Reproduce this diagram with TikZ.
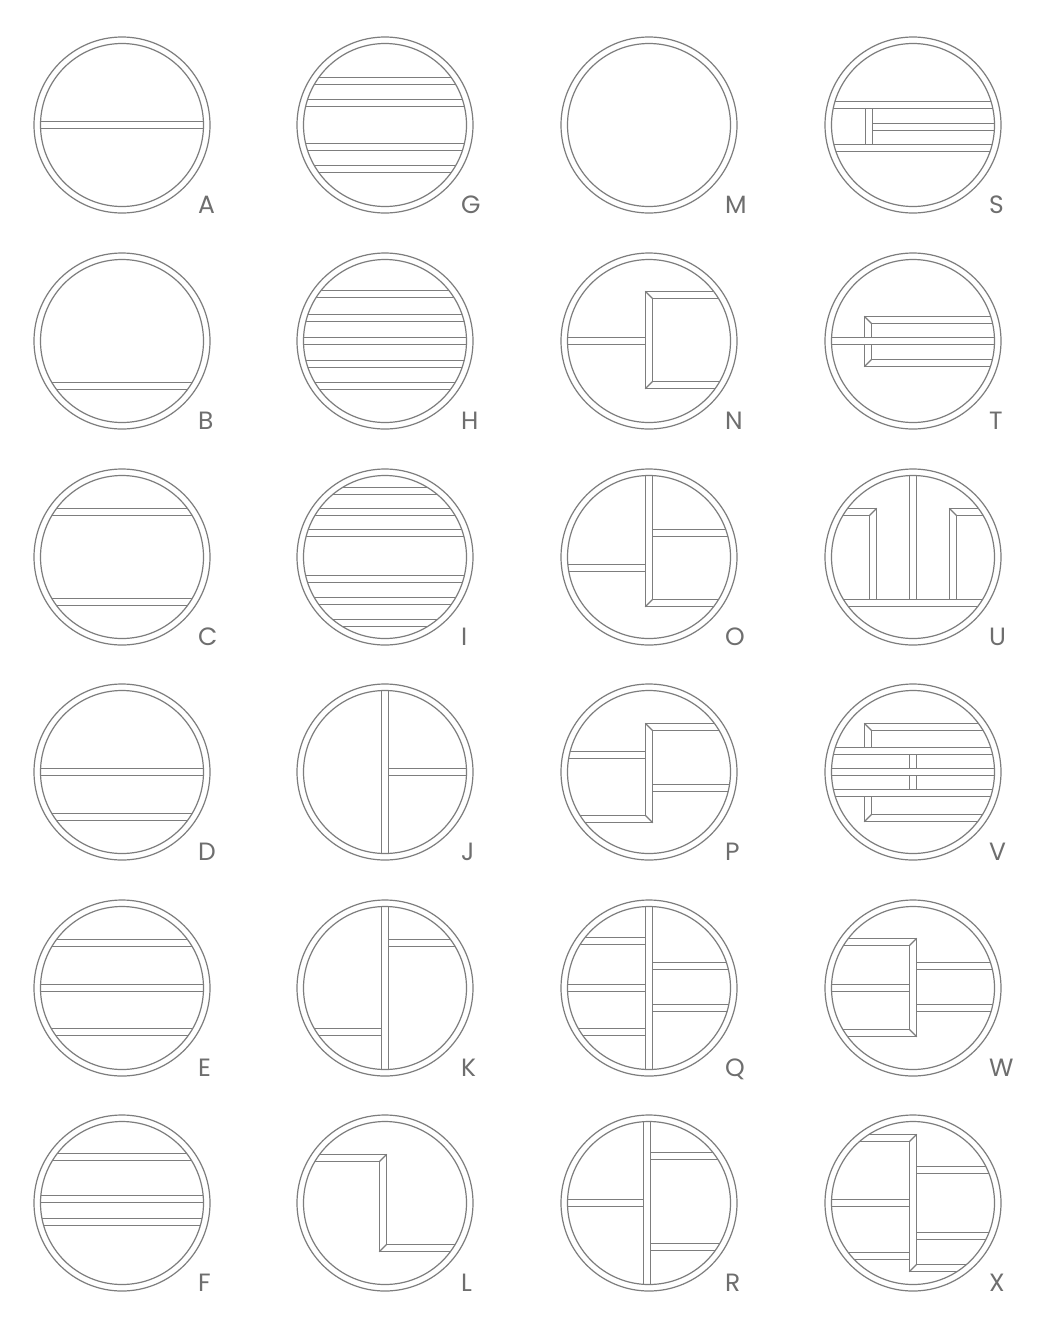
\documentclass[tikz,border=0pt]{standalone}
\usepackage{fontspec}
\setmainfont{Poppins}
\definecolor{lc}{RGB}{125,125,125}
\definecolor{lblc}{RGB}{110,110,110}
\def\hw{3.75}
\newcommand\hsh[3]{\draw[ln] (#2,#1-\hw) -- (#3,#1-\hw) (#2,#1+\hw) -- (#3,#1+\hw);}
\newcommand\vsh[3]{\draw[ln] (#1-\hw,#2) -- (#1-\hw,#3) (#1+\hw,#2) -- (#1+\hw,#3);}
\newcommand\medallion[4]{%
  \begin{scope}[shift={(#1,#2)}]
    \begin{scope}
      \clip (0,0) circle[radius=81.5pt];
      #4
    \end{scope}
    \draw[ln] (0,0) circle[radius=88pt] (0,0) circle[radius=81.5pt];
    \node[lbl] (lab#3) at (76,88) {#3};
  \end{scope}}
\begin{document}
\begin{tikzpicture}[x=1pt,y=-1pt,
  ln/.style={draw=lc,line width=1.2pt,line join=miter},
  lbl/.style={anchor=base west,text=lblc,font=\fontsize{25}{25}\selectfont,inner sep=0pt}]
\useasboundingbox (0,0) rectangle (1051,1326);
\fill[white] (0,0) rectangle (1051,1326);
% column 1
\medallion{122}{125}{A}{\hsh{0}{-90}{90}}
\medallion{122}{341}{B}{\hsh{45}{-90}{90}}
\medallion{122}{557}{C}{\hsh{-45}{-90}{90}\hsh{45}{-90}{90}}
\medallion{122}{772}{D}{\hsh{0}{-90}{90}\hsh{45}{-90}{90}}
\medallion{122}{988}{E}{\hsh{-45}{-90}{90}\hsh{0}{-90}{90}\hsh{44}{-90}{90}}
\medallion{122}{1203}{F}{\hsh{-46}{-90}{90}\hsh{-4}{-90}{90}\hsh{19}{-90}{90}}
% column 2
\medallion{385}{125}{G}{\hsh{-44}{-90}{90}\hsh{-22}{-90}{90}\hsh{22}{-90}{90}\hsh{44}{-90}{90}}
\medallion{385}{341}{H}{\hsh{-47}{-90}{90}\hsh{-23}{-90}{90}\hsh{0}{-90}{90}\hsh{23}{-90}{90}\hsh{45}{-90}{90}}
\medallion{385}{557}{I}{\hsh{-66}{-90}{90}\hsh{-45}{-90}{90}\hsh{-24}{-90}{90}\hsh{22}{-90}{90}\hsh{44}{-90}{90}\hsh{66}{-90}{90}}
\medallion{385}{772}{J}{\vsh{0}{-90}{90}\hsh{0}{\hw}{90}}
\medallion{385}{988}{K}{\vsh{0}{-90}{90}\hsh{-45}{\hw}{90}\hsh{44}{-90}{-\hw}}
\medallion{385}{1203}{L}{%
  \draw[ln] (-90,-45-\hw) -- (-2+\hw,-45-\hw) -- (-2+\hw,45-\hw) -- (90,45-\hw);
  \draw[ln] (-90,-45+\hw) -- (-2-\hw,-45+\hw) -- (-2-\hw,45+\hw) -- (90,45+\hw);
  \draw[ln] (-2+\hw,-45-\hw) -- (-2-\hw,-45+\hw) (-2-\hw,45+\hw) -- (-2+\hw,45-\hw);}
% column 3
\medallion{649}{125}{M}{}
\medallion{649}{341}{N}{%
  \draw[ln] (90,-46-\hw) -- (-\hw,-46-\hw) -- (-\hw,44+\hw) -- (90,44+\hw);
  \draw[ln] (90,-46+\hw) -- (\hw,-46+\hw) -- (\hw,44-\hw) -- (90,44-\hw);
  \draw[ln] (-\hw,-46-\hw) -- (\hw,-46+\hw) (-\hw,44+\hw) -- (\hw,44-\hw);
  \hsh{0}{-90}{-\hw}}
\medallion{649}{557}{O}{%
  \draw[ln] (-\hw,-90) -- (-\hw,46+\hw) -- (90,46+\hw);
  \draw[ln] (\hw,-90) -- (\hw,46-\hw) -- (90,46-\hw);
  \draw[ln] (-\hw,46+\hw) -- (\hw,46-\hw);
  \hsh{-24}{\hw}{90}\hsh{11}{-90}{-\hw}}
\medallion{649}{772}{P}{%
  \draw[ln] (90,-45-\hw) -- (-\hw,-45-\hw) -- (-\hw,47-\hw) -- (-90,47-\hw);
  \draw[ln] (90,-45+\hw) -- (\hw,-45+\hw) -- (\hw,47+\hw) -- (-90,47+\hw);
  \draw[ln] (-\hw,-45-\hw) -- (\hw,-45+\hw) (\hw,47+\hw) -- (-\hw,47-\hw);
  \hsh{-17}{-90}{-\hw}\hsh{16}{\hw}{90}}
\medallion{649}{988}{Q}{\vsh{0}{-90}{90}\hsh{-47}{-90}{-\hw}\hsh{0}{-90}{-\hw}\hsh{44}{-90}{-\hw}\hsh{-22}{\hw}{90}\hsh{20}{\hw}{90}}
\medallion{649}{1203}{R}{\vsh{-2}{-90}{90}\hsh{-47}{-2+\hw}{90}\hsh{44}{-2+\hw}{90}\hsh{0}{-90}{-2-\hw}}
% column 4
\medallion{913}{125}{S}{\hsh{-20}{-90}{90}\hsh{23}{-90}{90}\vsh{-44}{-20+\hw}{23-\hw}\hsh{2}{-44+\hw}{90}}
\medallion{913}{341}{T}{%
  \draw[ln] (90,-21-\hw) -- (-45-\hw,-21-\hw) -- (-45-\hw,-\hw);
  \draw[ln] (-45-\hw,\hw) -- (-45-\hw,22+\hw) -- (90,22+\hw);
  \draw[ln] (90,-21+\hw) -- (-45+\hw,-21+\hw) -- (-45+\hw,-\hw);
  \draw[ln] (-45+\hw,\hw) -- (-45+\hw,22-\hw) -- (90,22-\hw);
  \draw[ln] (-45-\hw,-21-\hw) -- (-45+\hw,-21+\hw) (-45-\hw,22+\hw) -- (-45+\hw,22-\hw);
  \hsh{0}{-90}{90}}
\medallion{913}{557}{U}{%
  \hsh{46}{-90}{90}\vsh{0}{-90}{46-\hw}
  \draw[ln] (-90,-45-\hw) -- (-40+\hw,-45-\hw) -- (-40+\hw,46-\hw);
  \draw[ln] (-90,-45+\hw) -- (-40-\hw,-45+\hw) -- (-40-\hw,46-\hw);
  \draw[ln] (-40+\hw,-45-\hw) -- (-40-\hw,-45+\hw);
  \draw[ln] (90,-45-\hw) -- (40-\hw,-45-\hw) -- (40-\hw,46-\hw);
  \draw[ln] (90,-45+\hw) -- (40+\hw,-45+\hw) -- (40+\hw,46-\hw);
  \draw[ln] (40-\hw,-45-\hw) -- (40+\hw,-45+\hw);}
\medallion{913}{772}{V}{%
  \draw[ln] (90,-45-\hw) -- (-45-\hw,-45-\hw) -- (-45-\hw,-21-\hw);
  \draw[ln] (90,-45+\hw) -- (-45+\hw,-45+\hw) -- (-45+\hw,-21-\hw);
  \draw[ln] (90,46+\hw) -- (-45-\hw,46+\hw) -- (-45-\hw,21+\hw);
  \draw[ln] (90,46-\hw) -- (-45+\hw,46-\hw) -- (-45+\hw,21+\hw);
  \draw[ln] (-45-\hw,-45-\hw) -- (-45+\hw,-45+\hw) (-45-\hw,46+\hw) -- (-45+\hw,46-\hw);
  \hsh{-21}{-90}{90}\hsh{0}{-90}{90}\hsh{21}{-90}{90}
  \vsh{0}{-21+\hw}{-\hw}\vsh{0}{\hw}{21-\hw}}
\medallion{913}{988}{W}{%
  \draw[ln] (-90,-46-\hw) -- (\hw,-46-\hw) -- (\hw,45+\hw) -- (-90,45+\hw);
  \draw[ln] (-90,-46+\hw) -- (-\hw,-46+\hw) -- (-\hw,45-\hw) -- (-90,45-\hw);
  \draw[ln] (\hw,-46-\hw) -- (-\hw,-46+\hw) (\hw,45+\hw) -- (-\hw,45-\hw);
  \hsh{0}{-90}{-\hw}\hsh{-22}{\hw}{90}\hsh{20}{\hw}{90}}
\medallion{913}{1203}{X}{%
  \draw[ln] (-90,-65-\hw) -- (\hw,-65-\hw) -- (\hw,65-\hw) -- (90,65-\hw);
  \draw[ln] (-90,-65+\hw) -- (-\hw,-65+\hw) -- (-\hw,65+\hw) -- (90,65+\hw);
  \draw[ln] (\hw,-65-\hw) -- (-\hw,-65+\hw) (-\hw,65+\hw) -- (\hw,65-\hw);
  \hsh{0}{-90}{-\hw}\hsh{53}{-90}{-\hw}\hsh{-33}{\hw}{90}\hsh{33}{\hw}{90}}
\end{tikzpicture}
\end{document}
